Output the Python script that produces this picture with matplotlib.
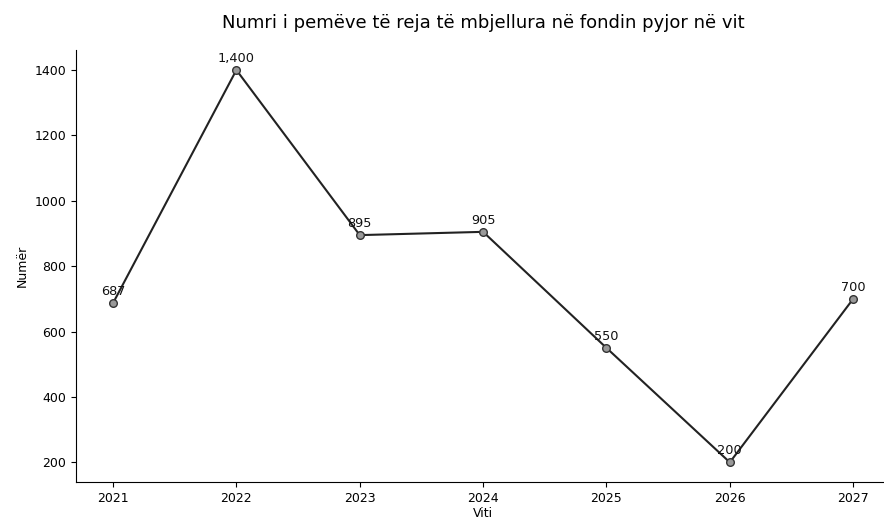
import numpy as np
import matplotlib
matplotlib.use("Agg")
import matplotlib.pyplot as plt

# Data tahun dan jumlah pohon
tahun = [2021, 2022, 2023, 2024, 2025, 2026, 2027]
jumlah = [687, 1400, 895, 905, 550, 200, 700]
label_nilai = ["687", "1,400", "895", "905", "550", "200", "700"]

fig = plt.figure(figsize=(8.84, 5.25), dpi=100)
ax = fig.add_axes([0.086, 0.082, 0.921, 0.822])

ax.plot(tahun, jumlah, color='#222222', linewidth=1.5, marker='o',
        markersize=5.5, markerfacecolor='#999999', markeredgecolor='#333333')

# Anotasi nilai di atas titik
for x, y, t in zip(tahun, jumlah, label_nilai):
    ax.annotate(t, (x, y), textcoords='offset points', xytext=(0, 6),
                ha='center', fontsize=9.3, color='#111111')

ax.set_title('Numri i pemëve të reja të mbjellura në fondin pyjor në vit',
             fontsize=13, pad=16)
ax.set_xlabel('Viti', fontsize=9, labelpad=2)
ax.set_ylabel('Numër', fontsize=9)
ax.set_xticks(tahun)
ax.tick_params(labelsize=9)
ax.spines['top'].set_visible(False)
ax.spines['right'].set_visible(False)

plt.savefig('out.png', dpi=100)
